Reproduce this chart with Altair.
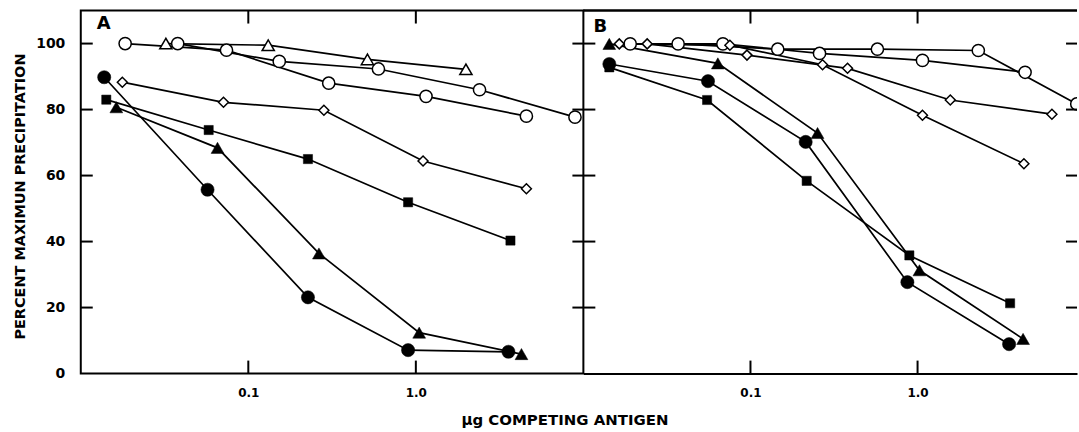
import altair as alt
import pandas as pd

# ---------------- data ----------------
# Panel A
A_open_circle1_x = [0.0184, 0.0741, 0.302, 1.15, 4.57]
A_open_circle1_y = [100, 98, 88, 84, 78]
A_open_circle2_x = [0.0379, 0.153, 0.598, 2.40, 8.91]
A_open_circle2_y = [100, 94.6, 92.3, 86, 77.7]
A_open_triangle_x = [0.0322, 0.1315, 0.514, 1.99]
A_open_triangle_y = [100, 99.5, 95.2, 92.2]
A_open_diamond_x = [0.0177, 0.0711, 0.2826, 1.104, 4.57]
A_open_diamond_y = [88.3, 82.2, 79.8, 64.4, 56.0]
A_filled_square_x = [0.0142, 0.058, 0.227, 0.899, 3.67]
A_filled_square_y = [83.0, 73.8, 65.0, 51.9, 40.3]
A_filled_triangle_x = [0.0163, 0.0655, 0.264, 1.047, 4.27]
A_filled_triangle_y = [80.7, 68.4, 36.4, 12.4, 5.9]
A_filled_circle_x = [0.0138, 0.0571, 0.227, 0.899, 3.57]
A_filled_circle_y = [89.8, 55.7, 23.1, 7.1, 6.6]

# Panel B
B_filled_triangle_x = [0.01429, 0.0638, 0.252, 1.026, 4.28]
B_filled_triangle_y = [99.9, 94.0, 72.9, 31.3, 10.5]
B_filled_circle_x = [0.0143, 0.0557, 0.214, 0.869, 3.53]
B_filled_circle_y = [93.8, 88.6, 70.2, 27.7, 8.9]
B_filled_square_x = [0.0143, 0.055, 0.217, 0.893, 3.58]
B_filled_square_y = [92.8, 82.9, 58.4, 35.8, 21.3]
B_open_circle1_x = [0.01906, 0.0684, 0.259, 1.07, 4.40]
B_open_circle1_y = [99.9, 99.9, 97.0, 94.9, 91.3]
B_open_circle2_x = [0.0369, 0.1456, 0.575, 2.31, 8.97]
B_open_circle2_y = [99.9, 98.3, 98.3, 97.9, 81.7]
B_open_diamond1_x = [0.0164, 0.0753, 0.270, 1.07, 4.33]
B_open_diamond1_y = [99.9, 99.5, 93.6, 78.3, 63.6]
B_open_diamond2_x = [0.0241, 0.0953, 0.381, 1.57, 6.37]
B_open_diamond2_y = [99.9, 96.5, 92.5, 82.9, 78.6]

y_tick_values = [20, 40, 60, 80, 100]
y_label_values = [0, 20, 40, 60, 80, 100]
x_tick_values = [0.1, 1.0]

Y_TITLE = "PERCENT MAXIMUN PRECIPITATION"
X_TITLE = "\u03bcg  COMPETING ANTIGEN"

FONT = "DejaVu Sans"

A_series = [
    ("a_oc1", "circle", False, A_open_circle1_x, A_open_circle1_y),
    ("a_oc2", "circle", False, A_open_circle2_x, A_open_circle2_y),
    ("a_ot", "triangle-up", False, A_open_triangle_x, A_open_triangle_y),
    ("a_od", "diamond", False, A_open_diamond_x, A_open_diamond_y),
    ("a_fs", "square", True, A_filled_square_x, A_filled_square_y),
    ("a_ft", "triangle-up", True, A_filled_triangle_x, A_filled_triangle_y),
    ("a_fc", "circle", True, A_filled_circle_x, A_filled_circle_y),
]
B_series = [
    ("b_oc1", "circle", False, B_open_circle1_x, B_open_circle1_y),
    ("b_oc2", "circle", False, B_open_circle2_x, B_open_circle2_y),
    ("b_od1", "diamond", False, B_open_diamond1_x, B_open_diamond1_y),
    ("b_od2", "diamond", False, B_open_diamond2_x, B_open_diamond2_y),
    ("b_fs", "square", True, B_filled_square_x, B_filled_square_y),
    ("b_ft", "triangle-up", True, B_filled_triangle_x, B_filled_triangle_y),
    ("b_fc", "circle", True, B_filled_circle_x, B_filled_circle_y),
]

SIZES = {
    ("circle", True): 175, ("circle", False): 150,
    ("triangle-up", True): 165, ("triangle-up", False): 150,
    ("diamond", False): 100, ("square", True): 85,
}


def build_df(series):
    rows = []
    for name, marker, filled, xs, ys in series:
        for x, y in zip(xs, ys):
            rows.append({"series": name, "marker": marker,
                         "kind": marker + ("_f" if filled else "_o"),
                         "x": x, "y": y})
    return pd.DataFrame(rows)


H = 364


def make_panel(series, domain, width, letter, letter_xy, first):
    df = build_df(series)
    xscale = alt.Scale(type="log", domain=domain, nice=False)
    yscale = alt.Scale(domain=[0, 110], nice=False)
    if first:
        xaxis = alt.Axis(values=x_tick_values, format=".1f", ticks=False, domain=False,
                         grid=False, labelFont=FONT, labelFontSize=12, labelFontWeight="bold",
                         labelColor="black", labelPadding=14, title=X_TITLE,
                         titleFont=FONT, titleFontSize=15, titleFontWeight="bold",
                         titleColor="black", titleX=485, titleY=51,
                         titleAlign="center", titleBaseline="alphabetic")
        yaxis = alt.Axis(values=y_label_values, ticks=False, domain=False, grid=False,
                         labelFont=FONT, labelFontSize=14, labelFontWeight="bold",
                         labelColor="black", labelPadding=16, title=Y_TITLE,
                         titleFont=FONT, titleFontSize=14.5, titleFontWeight="bold",
                         titleColor="black", titleX=-56, titleY=H / 2 + 4,
                         titleAlign="center", titleBaseline="alphabetic", titleAngle=270)
    else:
        xaxis = alt.Axis(values=x_tick_values, format=".1f", ticks=False, domain=True,
                         domainColor="black", domainWidth=2,
                         grid=False, labelFont=FONT, labelFontSize=12, labelFontWeight="bold",
                         labelColor="black", labelPadding=14, title="")
        yaxis = None

    X = alt.X("x:Q", scale=xscale, axis=xaxis)
    Y = alt.Y("y:Q", scale=yscale, axis=yaxis)
    clip = not first

    base = alt.Chart(df)
    lines = base.mark_line(color="black", strokeWidth=1.7, clip=clip).encode(
        x=X, y=Y, detail="series:N", order="x:Q")

    layers = [lines]
    for (marker, filled), size in SIZES.items():
        kind = marker + ("_f" if filled else "_o")
        if kind not in set(df["kind"]):
            continue
        pts = base.transform_filter(alt.datum.kind == kind).mark_point(
            shape=marker, size=size, filled=True,
            fill="black" if filled else "white",
            stroke="black", strokeWidth=1.5 if not filled else 0.5, opacity=1,
            clip=clip,
        ).encode(x=X, y=Y)
        layers.append(pts)

    ydf = pd.DataFrame({"y": y_tick_values})
    xdf = pd.DataFrame({"x": x_tick_values})
    tl = alt.Chart(ydf).mark_rule(color="black", strokeWidth=2).encode(
        y=Y, x=alt.value(0), x2=alt.value(12))
    tr = alt.Chart(ydf).mark_rule(color="black", strokeWidth=2).encode(
        y=Y, x=alt.value(width - 11), x2=alt.value(width))
    tb = alt.Chart(xdf).mark_rule(color="black", strokeWidth=2).encode(
        x=X, y=alt.value(H - 13), y2=alt.value(H))
    tt = alt.Chart(xdf).mark_rule(color="black", strokeWidth=2).encode(
        x=X, y=alt.value(0), y2=alt.value(13))
    layers += [tl, tr, tb, tt]

    if not first:
        top = alt.Chart(xdf).mark_rule(color="black", strokeWidth=2).encode(
            x=alt.value(0), x2=alt.value(width), y=alt.value(0))
        layers.append(top)

    lab = alt.Chart(pd.DataFrame({"t": [letter]})).mark_text(
        font=FONT, fontSize=18, fontWeight="bold", color="black",
        align="center", baseline="middle").encode(
        x=alt.value(letter_xy[0]), y=alt.value(letter_xy[1]), text="t:N")
    layers.append(lab)

    ch = alt.layer(*layers).properties(width=width, height=H)
    if not first:
        ch = ch.properties(view=alt.ViewBackground(stroke="transparent"))
    return ch


panelA = make_panel(A_series, [0.01, 10], 504, "A", (23, 13), True)
panelB = make_panel(B_series, [0.01, 9], 495, "B", (17, 16), False)

chart = alt.hconcat(panelA, panelB, spacing=0, bounds="flush").resolve_scale(
    x="independent", y="independent"
).properties(
    padding={"left": 11, "top": 8, "right": 0, "bottom": 0},
    background="white",
).configure_view(stroke="black", strokeWidth=2)

chart.save("out.html", embed_options={"renderer": "svg", "actions": False})
